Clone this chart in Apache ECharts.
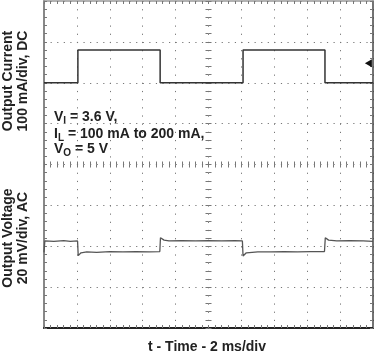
<!DOCTYPE html>
<html>
<head>
<meta charset="utf-8">
<script src="https://cdn.jsdelivr.net/npm/echarts@6/dist/echarts.min.js"></script>
<style>html,body{margin:0;padding:0;background:#fff}#c{width:376px;height:354px}</style>
</head>
<body>
<div id="c"></div>
<script>
// Time axis: 0..20 ms (2 ms/div, 10 div); vertical in screen divisions (0..8)
const xTicks = [0, 2, 4, 6, 8, 10, 12, 14, 16, 18, 20];
const yTicks = [0, 1, 2, 3, 4, 5, 6, 7, 8];

// Output current trace (DC, 100 mA/div) – positions in divisions
const currentTime  = [0, 2.06, 2.06, 7.06, 7.06, 12.1, 12.1, 17.08, 17.08, 20];
const currentLevel = [6.0, 6.0, 6.8, 6.8, 6.0, 6.0, 6.8, 6.8, 6.0, 6.0];
const currentRef = [19.72, 6.48]; // ground-reference marker

// Output voltage trace (AC, 20 mV/div) – positions in divisions
const voltageTime  = [0, 0.05, 0.6, 1.2, 1.6, 2.04, 2.08, 2.25, 2.6, 3.2, 4.0, 4.8, 5.6, 6.4, 7.04, 7.08, 7.3, 7.6, 8.4, 9.2, 10, 10.8, 11.6, 12.06, 12.1, 12.3, 13, 13.8, 14.6, 15.4, 16.2, 17.05, 17.1, 17.3, 17.8, 18.6, 19.4, 20];
const voltageLevel = [1.85, 2.13, 2.12, 2.14, 2.12, 2.13, 1.77, 1.84, 1.86, 1.85, 1.87, 1.86, 1.87, 1.86, 1.87, 2.21, 2.15, 2.13, 2.14, 2.13, 2.14, 2.13, 2.14, 2.13, 1.76, 1.84, 1.86, 1.86, 1.87, 1.86, 1.87, 1.87, 2.21, 2.15, 2.13, 2.14, 2.13, 2.12];

const yLabelTop = ['Output Current', '100 mA/div, DC'];
const yLabelBottom = ['Output Voltage', '20 mV/div, AC'];
const xLabel = 't - Time - 2 ms/div';
const notes = [
  ['V', 'I', ' = 3.6 V,'],
  ['I', 'L', ' = 100 mA to 200 mA,'],
  ['V', 'O', ' = 5 V']
];

const FONT = 'Liberation Sans, Arial, sans-serif';
const chart = echarts.init(document.getElementById('c'), null, {renderer: 'canvas'});

function pairs(xs, ys) { return xs.map((x, i) => [x, ys[i]]); }

function xAx(pos, offset, inside, lineCfg, extra) {
  return Object.assign({
    type: 'value', min: xTicks[0], max: xTicks[xTicks.length - 1], interval: 2,
    position: pos, offset: offset,
    axisLabel: {show: false},
    axisLine: lineCfg ? {show: true, onZero: false, lineStyle: lineCfg} : {show: false, onZero: false},
    axisTick: {show: true, inside: inside, length: 3, lineStyle: {color: '#777', width: 1}},
    minorTick: {show: true, splitNumber: 5, length: 3, lineStyle: {color: '#777', width: 1}},
    splitLine: {show: false}
  }, extra || {});
}
function yAx(pos, offset, inside, lineCfg, extra) {
  return Object.assign({
    type: 'value', min: yTicks[0], max: yTicks[yTicks.length - 1], interval: 1,
    position: pos, offset: offset,
    axisLabel: {show: false},
    axisLine: lineCfg ? {show: true, onZero: false, lineStyle: lineCfg} : {show: false, onZero: false},
    axisTick: {show: true, inside: inside, length: 3, lineStyle: {color: '#777', width: 1}},
    minorTick: {show: true, splitNumber: 5, length: 3, lineStyle: {color: '#777', width: 1}},
    splitLine: {show: false}
  }, extra || {});
}

function noteText(n, top) {
  return {
    type: 'text', left: 54, top: top, silent: true,
    style: {
      text: '{a|' + n[0] + '}{s|' + n[1] + '}{a|' + n[2] + '}',
      rich: {
        a: {fontFamily: FONT, fontWeight: 'bold', fontSize: 14, lineHeight: 16, verticalAlign: 'top', fill: '#222'},
        s: {fontFamily: FONT, fontWeight: 'bold', fontSize: 10, lineHeight: 8, verticalAlign: 'bottom', fill: '#222'}
      }
    }
  };
}

const option = {
  animation: false,
  backgroundColor: '#fff',
  grid: {left: 44, top: 1, width: 329, height: 327, containLabel: false, show: false},
  xAxis: [
    xAx('bottom', 0, true, {color: '#222', width: 2}, {
      splitLine: {show: true, lineStyle: {color: '#777', width: 1, type: [1.2, 6.975]}}
    }),
    xAx('top', 0, true, {color: '#999', width: 1.5}),
    xAx('bottom', -163.5, true, null),
    xAx('bottom', -163.5, false, null)
  ],
  yAxis: [
    yAx('left', 0, true, {color: '#888', width: 2}, {
      splitLine: {show: true, lineStyle: {color: '#777', width: 1, type: [1.2, 5.38]}}
    }),
    yAx('right', 0, true, {color: '#444', width: 1.5}),
    yAx('left', -164.5, true, null),
    yAx('left', -164.5, false, null)
  ],
  series: [
    {
      type: 'line', xAxisIndex: 0, yAxisIndex: 0,
      data: pairs(currentTime, currentLevel),
      symbol: 'none', lineStyle: {color: '#333', width: 1.5},
      markPoint: {
        silent: true,
        label: {show: false},
        data: [{coord: currentRef, symbol: 'triangle', symbolSize: [8, 7], symbolRotate: 90, itemStyle: {color: '#111'}}]
      }
    },
    {
      type: 'line', xAxisIndex: 0, yAxisIndex: 0,
      data: pairs(voltageTime, voltageLevel),
      symbol: 'none', lineStyle: {color: '#555', width: 1.3}
    }
  ],
  graphic: [
    {
      type: 'text', x: 16, y: 81, rotation: Math.PI / 2, silent: true,
      style: {text: yLabelTop.join('\n'), fontFamily: FONT, fontWeight: 'bold', fontSize: 14, lineHeight: 15,
        fill: '#222', align: 'center', verticalAlign: 'middle'}
    },
    {
      type: 'text', x: 16, y: 238, rotation: Math.PI / 2, silent: true,
      style: {text: yLabelBottom.join('\n'), fontFamily: FONT, fontWeight: 'bold', fontSize: 14, lineHeight: 15,
        fill: '#222', align: 'center', verticalAlign: 'middle'}
    },
    {
      type: 'text', x: 207, y: 347, silent: true,
      style: {text: xLabel, fontFamily: FONT, fontWeight: 'bold', fontSize: 14,
        fill: '#222', align: 'center', verticalAlign: 'middle'}
    },
    noteText(notes[0], 110),
    noteText(notes[1], 127),
    noteText(notes[2], 142.5)
  ]
};
chart.setOption(option);
</script>
</body>
</html>
